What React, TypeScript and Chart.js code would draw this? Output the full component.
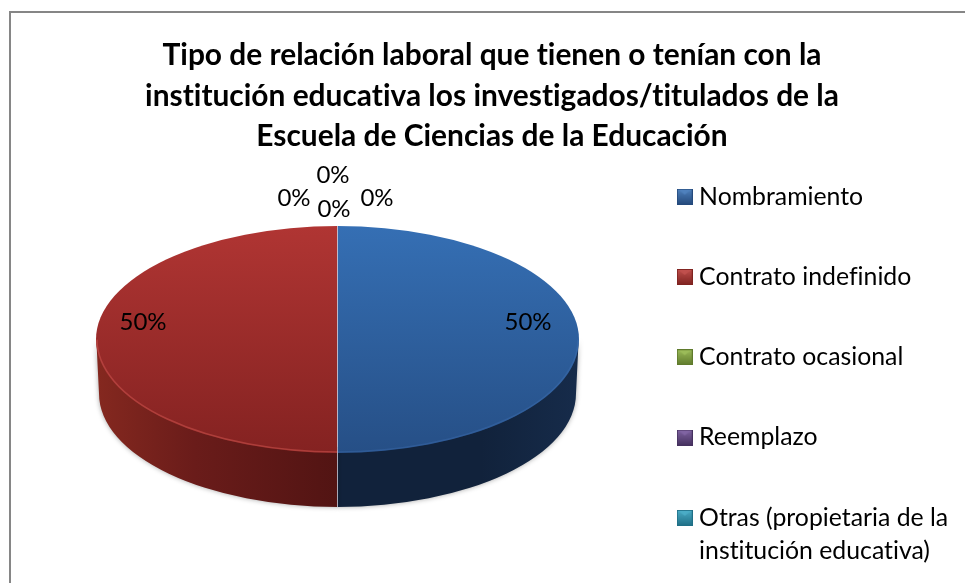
import React, { useEffect, useRef } from "react";
import { Chart, registerables } from "chart.js";

Chart.register(...registerables);

const categories: (string | string[])[] = [
  "Nombramiento",
  "Contrato indefinido",
  "Contrato ocasional",
  "Reemplazo",
  ["Otras (propietaria de la", "institución educativa)"],
  "",
];
const percentages = [50, 50, 0, 0, 0, 0];
const swatchTop = ["#4f81bd", "#c0504d", "#9bbb59", "#8064a2", "#4bacc6", "#f79646"];
const swatchDark = ["#254a7c", "#7f2320", "#5f7a2c", "#46315f", "#1f6f86", "#a85f1c"];
const titleLines = [
  "Tipo de relación laboral que tienen o tenían con la",
  "institución educativa los investigados/titulados de la",
  "Escuela de Ciencias de la Educación",
];
const labelAnchors: [number, number][] = [
  [528, 322],
  [143, 322],
  [334, 209],
  [377, 198],
  [333, 175],
  [294, 198],
];

const FONT = "Lato";
const PIE = { left: 96, right: 579, top: 226, bottom: 453, depth: 54 };

function makeSwatch(i: number) {
  const c = document.createElement("canvas");
  c.width = 16;
  c.height = 16;
  const x = c.getContext("2d")!;
  const g = x.createLinearGradient(0, 0, 0, 16);
  g.addColorStop(0, swatchTop[i]);
  g.addColorStop(1, swatchDark[i]);
  x.fillStyle = g;
  x.fillRect(0, 0, 16, 16);
  x.fillStyle = swatchTop[i];
  x.beginPath();
  x.moveTo(0, 0);
  x.lineTo(16, 0);
  x.lineTo(8, 6);
  x.fill();
  x.strokeStyle = swatchDark[i];
  x.strokeRect(0.5, 0.5, 15, 15);
  return c;
}

const pie3d = {
  id: "pie3d",
  afterLayout(chart: any) {
    chart.chartArea.left = PIE.left;
    chart.chartArea.right = PIE.right;
    chart.chartArea.top = PIE.top;
    chart.chartArea.bottom = PIE.bottom;
    chart.chartArea.width = PIE.right - PIE.left;
    chart.chartArea.height = PIE.bottom - PIE.top;
    const l = chart.legend;
    const w = l.width;
    const h = l.height;
    l.left = 627.2;
    l.right = l.left + w;
    l.top = 128.7;
    l.bottom = l.top + h;
    l.adjustHitBoxes();
  },
  beforeDraw(chart: any) {
    const { ctx } = chart;
    ctx.letterSpacing = "0.001px";
    ctx.save();
    ctx.fillStyle = "#ffffff";
    ctx.fillRect(0, 0, chart.width, chart.height);
    ctx.strokeStyle = "#868686";
    ctx.lineWidth = 2;
    ctx.strokeRect(10, 12, chart.width + 20, chart.height + 20);
    ctx.restore();
  },
  beforeDatasetsDraw(chart: any) {
    const { ctx, chartArea } = chart;
    const arcs = chart.getDatasetMeta(0).data;
    const cx = (chartArea.left + chartArea.right) / 2;
    const cy = (chartArea.top + chartArea.bottom) / 2;
    const rx = (chartArea.right - chartArea.left) / 2;
    const ry = (chartArea.bottom - chartArea.top) / 2;
    const sideRx = rx - 3;
    const sides = [
      ["#11223b", "#11223b", "#162b4a"],
      ["#521413", "#6a1c1a", "#84281f"],
    ];
    ctx.save();
    arcs.forEach((arc: any, i: number) => {
      if (arc.endAngle - arc.startAngle <= 0) return;
      const a0 = Math.max(arc.startAngle, 0);
      const a1 = Math.min(arc.endAngle, Math.PI);
      const span = arc.endAngle > Math.PI ? [Math.max(arc.startAngle, 0), Math.PI] : [a0, a1];
      if (span[1] <= span[0]) return;
      const stops = sides[i] || sides[0];
      const right = i === 0;
      const g = ctx.createLinearGradient(cx, 0, right ? cx + sideRx : cx - sideRx, 0);
      g.addColorStop(0, stops[0]);
      g.addColorStop(0.6, stops[1]);
      g.addColorStop(1, stops[2]);
      ctx.save();
      ctx.shadowColor = "rgba(0,0,0,0.35)";
      ctx.shadowBlur = 5;
      ctx.fillStyle = g;
      ctx.beginPath();
      ctx.ellipse(cx, cy - 6, rx, ry, 0, span[0], span[1]);
      ctx.ellipse(cx, cy + PIE.depth, sideRx, ry, 0, span[1], span[0], true);
      ctx.closePath();
      ctx.fill();
      ctx.restore();
    });
    ctx.restore();
    ctx.save();
    ctx.translate(cx, 0);
    ctx.scale(rx / ry, 1);
    ctx.translate(-cx, 0);
  },
  afterDatasetsDraw(chart: any) {
    const { ctx, chartArea } = chart;
    ctx.restore();
    const arcs = chart.getDatasetMeta(0).data;
    const cx = (chartArea.left + chartArea.right) / 2;
    const cy = (chartArea.top + chartArea.bottom) / 2;
    const rx = (chartArea.right - chartArea.left) / 2;
    const ry = (chartArea.bottom - chartArea.top) / 2;
    ctx.save();
    // soft bevel along the rim
    const rims = ["rgba(70,120,190,0.3)", "rgba(200,80,75,0.6)"];
    arcs.forEach((arc: any, i: number) => {
      if (arc.endAngle - arc.startAngle <= 0) return;
      const a0 = arc.startAngle < 0 && arc.endAngle > 0 ? 0 : Math.max(arc.startAngle, 0);
      const a1 = Math.min(arc.endAngle, Math.PI);
      if (a1 <= a0) return;
      ctx.strokeStyle = rims[i] || rims[0];
      ctx.lineWidth = 1.5;
      ctx.beginPath();
      ctx.ellipse(cx, cy, rx - 1, ry - 1, 0, a0, a1);
      ctx.stroke();
    });
    // divider between the two slices
    ctx.strokeStyle = "rgba(205,215,232,0.7)";
    ctx.lineWidth = 1;
    ctx.beginPath();
    ctx.moveTo(cx, chartArea.top);
    ctx.lineTo(cx, chartArea.bottom + PIE.depth);
    ctx.stroke();
    // percentage labels
    ctx.fillStyle = "#000000";
    ctx.font = `24px ${FONT}`;
    ctx.textAlign = "center";
    ctx.textBaseline = "middle";
    percentages.forEach((v, i) => {
      const [x, y] = labelAnchors[i];
      ctx.fillText(`${v}%`, x, y);
    });
    ctx.restore();
  },
};

export default function App() {
  const ref = useRef<HTMLCanvasElement>(null);
  useEffect(() => {
    document.body.style.margin = "0";
    const canvas = ref.current!;
    const ctx = canvas.getContext("2d")!;
    const blue = ctx.createLinearGradient(0, PIE.top, 0, PIE.bottom);
    blue.addColorStop(0, "#356fb4");
    blue.addColorStop(1, "#264f86");
    const red = ctx.createLinearGradient(0, PIE.top, 0, PIE.bottom);
    red.addColorStop(0, "#b03533");
    red.addColorStop(1, "#842221");
    const swatches = categories.map((_, i) => makeSwatch(i));
    const chart = new Chart(canvas, {
      type: "pie",
      data: {
        labels: categories as any,
        datasets: [
          {
            data: percentages,
            backgroundColor: [blue, red, ...swatchTop.slice(2)],
            borderWidth: 0,
          },
        ],
      },
      plugins: [pie3d],
      options: {
        responsive: false,
        animation: false,
        layout: { padding: { left: 19, top: 35, bottom: -150 } },
        plugins: {
          tooltip: { enabled: false },
          title: {
            display: true,
            text: titleLines,
            color: "#000000",
            font: { family: FONT, size: 29.9, weight: "bold", lineHeight: 1.36 },
            padding: 0,
          },
          legend: {
            display: true,
            position: "right",
            align: "start",
            labels: {
              color: "#000000",
              font: { family: FONT, size: 24.8, lineHeight: 1.32 },
              padding: 55.5,
              boxWidth: 4,
              boxHeight: 16,
              usePointStyle: true,
              generateLabels(c: any) {
                const items = Chart.overrides.pie.plugins.legend.labels.generateLabels(c);
                return items.map((it: any, i: number) => ({ ...it, pointStyle: swatches[i] }));
              },
              filter: (it: any) => it.text !== "",
            },
          },
        },
      } as any,
    });
    return () => chart.destroy();
  }, []);
  return <canvas ref={ref} width={965} height={583} style={{ display: "block" }} />;
}
